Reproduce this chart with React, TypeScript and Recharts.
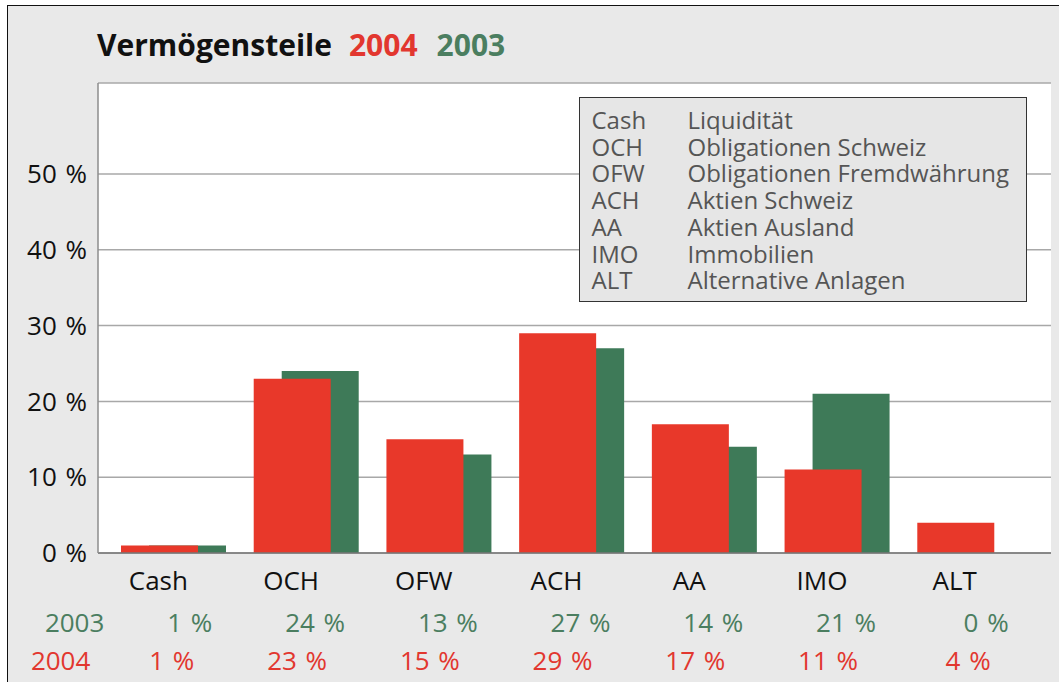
import React from "react";
import { BarChart, Bar, XAxis, YAxis, CartesianGrid } from "recharts";

const categories = ["Cash", "OCH", "OFW", "ACH", "AA", "IMO", "ALT"];
const values2004 = [1, 23, 15, 29, 17, 11, 4];
const values2003 = [1, 24, 13, 27, 14, 21, 0];
const yTicks = [0, 10, 20, 30, 40, 50];

const glossaryCodes = ["Cash", "OCH", "OFW", "ACH", "AA", "IMO", "ALT"];
const glossaryNames = [
  "Liquidität",
  "Obligationen Schweiz",
  "Obligationen Fremdwährung",
  "Aktien Schweiz",
  "Aktien Ausland",
  "Immobilien",
  "Alternative Anlagen",
];

const FONT = "'Open Sans', 'Noto Sans', sans-serif";
const RED = "#e8382a";
const GREEN = "#3e7a58";
const RED_TEXT = "#e2372f";
const GREEN_TEXT = "#4b7e60";
const BORDER = "#8c8c8c";
const PCT = "\u2004%"; // slightly wider gap before the percent sign, like the original

const data = categories.map((name, i) => ({
  name,
  y2004: values2004[i],
  y2003: values2003[i],
}));

// category name plus the two value rows under each group
const CategoryTick = (props: any) => {
  const { x, y, payload } = props;
  const i = categories.indexOf(payload.value);
  return (
    <g transform={`translate(${x},${y})`} fontFamily={FONT} fontSize={26}>
      <text x={-15} y={37} textAnchor="middle" fill="#111">
        {payload.value}
      </text>
      <text x={39} y={79} textAnchor="end" fill={GREEN_TEXT}>
        {values2003[i] + PCT}
      </text>
      <text x={21} y={117} textAnchor="end" fill={RED_TEXT}>
        {values2004[i] + PCT}
      </text>
      {i === 0 && (
        <>
          <text x={-69} y={79} textAnchor="end" fill={GREEN_TEXT}>
            2003
          </text>
          <text x={-83} y={117} textAnchor="end" fill={RED_TEXT}>
            2004
          </text>
        </>
      )}
    </g>
  );
};

export default function App() {
  return (
    <div
      style={{
        position: "absolute",
        left: 0,
        top: 0,
        width: 1059,
        height: 682,
        background: "#fff",
        overflow: "hidden",
        fontFamily: FONT,
      }}
    >
      <div
        style={{
          position: "absolute",
          left: 7,
          top: 5,
          width: 1060,
          height: 690,
          borderLeft: "1.5px solid #111",
          borderTop: "1.5px solid #111",
          background: "#e9e9e9",
        }}
      />
      <div
        style={{
          position: "absolute",
          left: 97,
          top: 30,
          fontSize: 30,
          lineHeight: "30px",
          fontWeight: 700,
          whiteSpace: "nowrap",
          color: "#111",
        }}
      >
        Vermögensteile
        <span style={{ color: RED_TEXT, marginLeft: 17 }}>2004</span>
        <span style={{ color: GREEN_TEXT, marginLeft: 19 }}>2003</span>
      </div>
      <div style={{ position: "absolute", left: 0, top: 0 }}>
        <BarChart
          width={1059}
          height={682}
          data={data}
          margin={{ top: 83, right: 8, left: 8, bottom: 0 }}
          barGap={-105}
        >
          <CartesianGrid
            vertical={false}
            stroke="#a8a8a8"
            strokeWidth={1.5}
            fill="#fff"
            fillOpacity={1}
          />
          <XAxis
            dataKey="name"
            height={129}
            padding={{ left: 9, right: 15 }}
            tickLine={false}
            tickSize={0}
            tickMargin={0}
            axisLine={{ stroke: "#777", strokeWidth: 1.5 }}
            tick={<CategoryTick />}
            interval={0}
          />
          <XAxis
            xAxisId="top"
            orientation="top"
            dataKey="name"
            height={0}
            tick={false}
            tickLine={false}
            axisLine={{ stroke: BORDER, strokeWidth: 1.5 }}
          />
          <YAxis
            width={90}
            domain={[0, 62]}
            ticks={yTicks}
            tickLine={false}
            tickSize={6}
            tickMargin={5}
            axisLine={{ stroke: BORDER, strokeWidth: 1.5 }}
            tickFormatter={(v: number) => v + PCT}
            tick={{ fill: "#111", fontSize: 26, fontFamily: FONT }}
          />
          <YAxis
            yAxisId="right"
            orientation="right"
            width={0}
            domain={[0, 62]}
            tick={false}
            tickLine={false}
            axisLine={{ stroke: BORDER, strokeWidth: 1.5 }}
          />
          <Bar dataKey="y2003" fill={GREEN} barSize={77} isAnimationActive={false} />
          <Bar dataKey="y2004" fill={RED} barSize={77} isAnimationActive={false} />
        </BarChart>
      </div>
      <div
        style={{
          position: "absolute",
          left: 579,
          top: 97,
          width: 448,
          height: 205,
          boxSizing: "border-box",
          border: "1.5px solid #333",
          background: "#e6e6e6",
          paddingTop: 9,
          paddingLeft: 11.5,
          fontSize: 24,
          lineHeight: "26.7px",
          color: "#555",
        }}
      >
        {glossaryCodes.map((code, i) => (
          <div key={code} style={{ display: "flex", whiteSpace: "nowrap" }}>
            <span style={{ width: 96, flex: "none" }}>{code}</span>
            <span>{glossaryNames[i]}</span>
          </div>
        ))}
      </div>
    </div>
  );
}
